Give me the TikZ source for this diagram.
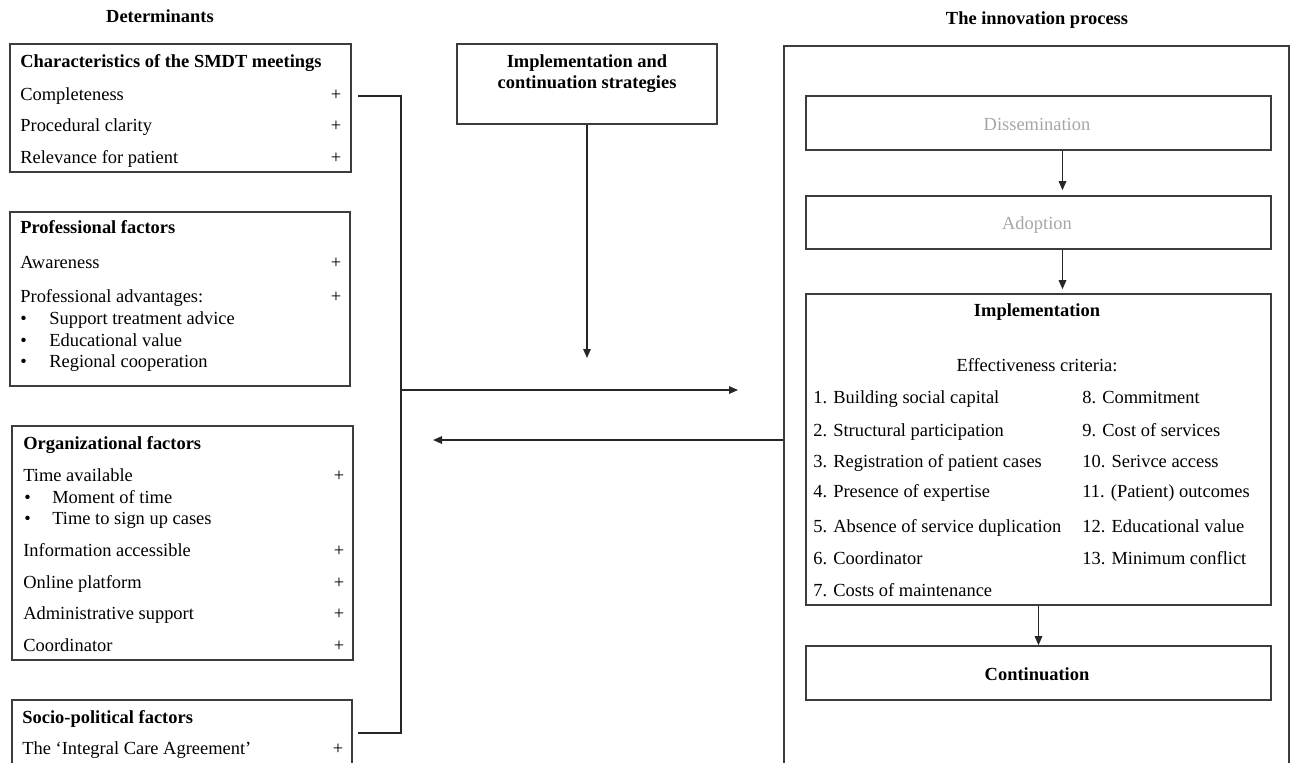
\documentclass[tikz,border=0pt]{standalone}
\usepackage{fontspec}
\setmainfont{Liberation Serif}
\usepackage{tikz}
\usetikzlibrary{arrows.meta, positioning, fit, calc}
\definecolor{boxLine}{HTML}{3C3C3C}
\definecolor{fadedText}{HTML}{A6A6A6}

\begin{document}
\begin{tikzpicture}[
    x=0.02cm, y=0.02cm,
    font=\fontsize{10.5}{12.6}\selectfont,
    box/.style={draw=boxLine, line width=0.9pt, inner sep=0pt},
    item/.style={anchor=base west, inner sep=0pt},
    title/.style={item, font=\fontsize{10.5}{12.6}\selectfont\bfseries},
    head/.style={anchor=base, inner sep=0pt, font=\fontsize{10.5}{12.6}\selectfont\bfseries},
    plain/.style={anchor=base, inner sep=0pt},
    plus/.style={anchor=base, inner sep=0pt},
    link/.style={draw=black!85, line width=0.8pt},
    arrow/.style={link, -{Triangle[length=1.8mm, width=1.5mm]}},
]
\clip (0,0) rectangle (1294,-762);

% Column headings
\node[head] (detHead) at (160,-22) {Determinants};
\node[head] (innHead) at (1037,-24) {The innovation process};

% Determinants: SMDT meetings
\node[box, fit={(10,-44) (351,-172)}] (d1) {};
\node[title] (d1t) at (20,-67) {Characteristics of the SMDT meetings};
\node[item] (d1a) at (20,-100) {Completeness};
\node[plus] (d1ap) at (336,-100) {+};
\node[item] (d1b) at (20,-131) {Procedural clarity};
\node[plus] (d1bp) at (336,-131) {+};
\node[item] (d1c) at (20,-163) {Relevance for patient};
\node[plus] (d1cp) at (336,-163) {+};

% Determinants: professional
\node[box, fit={(10,-212) (350,-386)}] (d2) {};
\node[title] (d2t) at (20,-233) {Professional factors};
\node[item] (d2a) at (20,-268) {Awareness};
\node[plus] (d2ap) at (336,-268) {+};
\node[item] (d2b) at (20,-302) {Professional advantages:};
\node[plus] (d2bp) at (336,-302) {+};
\node[item] (d2b1) at (20,-324) {\makebox[0.58cm][l]{\textbullet}Support treatment advice};
\node[item] (d2b2) at (20,-346) {\makebox[0.58cm][l]{\textbullet}Educational value};
\node[item] (d2b3) at (20,-367) {\makebox[0.58cm][l]{\textbullet}Regional cooperation};

% Determinants: organizational
\node[box, fit={(12,-426) (353,-660)}] (d3) {};
\node[title] (d3t) at (23,-449) {Organizational factors};
\node[item] (d3a) at (23,-481) {Time available};
\node[plus] (d3ap) at (339,-481) {+};
\node[item] (d3a1) at (24,-503) {\makebox[0.56cm][l]{\textbullet}Moment of time};
\node[item] (d3a2) at (24,-524) {\makebox[0.56cm][l]{\textbullet}Time to sign up cases};
\node[item] (d3b) at (23,-556) {Information accessible};
\node[plus] (d3bp) at (339,-556) {+};
\node[item] (d3c) at (23,-588) {Online platform};
\node[plus] (d3cp) at (339,-588) {+};
\node[item] (d3d) at (23,-619) {Administrative support};
\node[plus] (d3dp) at (339,-619) {+};
\node[item] (d3e) at (23,-651) {Coordinator};
\node[plus] (d3ep) at (339,-651) {+};

% Determinants: socio-political
\node[box, fit={(12,-700) (352,-800)}] (d4) {};
\node[title] (d4t) at (22,-723) {Socio-political factors};
\node[item] (d4a) at (22,-754) {The `Integral Care Agreement'};
\node[plus] (d4ap) at (338,-754) {+};

% Bus from determinants to the process
\coordinate (d1out) at (358,-96);
\coordinate (d4out) at (358,-733);
\coordinate (bus) at (401,-390);
\coordinate (busEnd) at (738,-390);
\draw[link] (d1out) -| (bus) |- (d4out);
\draw[arrow] (bus) -- (busEnd);

% Strategies
\node[box, fit={(457,-44) (717,-124)}] (strat) {};
\node[head] (strat1) at (587,-67) {Implementation and};
\node[head] (strat2) at (587,-88) {continuation strategies};
\coordinate (stratEnd) at (587,-358);
\draw[arrow] (strat.south) -- (stratEnd);

% Innovation process
\node[box, fit={(784,-46) (1289,-800)}] (inn) {};
\coordinate (innOut) at (433,-440);
\draw[arrow] (inn.west |- innOut) -- (innOut);

\node[box, fit={(806,-96) (1271,-150)}] (dis) {};
\node[plain, text=fadedText] (disT) at (1037,-130) {Dissemination};
\node[box, fit={(806,-196) (1271,-249)}] (ado) {};
\node[plain, text=fadedText] (adoT) at (1037,-229) {Adoption};
\node[box, fit={(806,-294) (1271,-605)}] (imp) {};
\node[head] (impT) at (1037,-316) {Implementation};
\node[plain] (crit) at (1037,-371) {Effectiveness criteria:};
\node[box, fit={(806,-646) (1271,-700)}] (con) {};
\node[head] (conT) at (1037,-680) {Continuation};

% Effectiveness criteria
\node[item] (c1) at (813,-403) {1. Building social capital};
\node[item] (c2) at (813,-436) {2. Structural participation};
\node[item] (c3) at (813,-467) {3. Registration of patient cases};
\node[item] (c4) at (813,-497) {4. Presence of expertise};
\node[item] (c5) at (813,-532) {5. Absence of service duplication};
\node[item] (c6) at (813,-564) {6. Coordinator};
\node[item] (c7) at (813,-596) {7. Costs of maintenance};
\node[item] (c8) at (1082,-403) {8. Commitment};
\node[item] (c9) at (1082,-436) {9. Cost of services};
\node[item] (c10) at (1082,-467) {10. Serivce access};
\node[item] (c11) at (1082,-497) {11. (Patient) outcomes};
\node[item] (c12) at (1082,-532) {12. Educational value};
\node[item] (c13) at (1082,-564) {13. Minimum conflict};

\draw[arrow, shorten >=0.1cm] ($(dis.south)+(24,0)$) -- ($(ado.north)+(24,0)$);
\draw[arrow, shorten >=0.08cm] ($(ado.south)+(24,0)$) -- ($(imp.north)+(24,0)$);
\draw[arrow] (imp.south) -- (con.north);
\end{tikzpicture}
\end{document}
